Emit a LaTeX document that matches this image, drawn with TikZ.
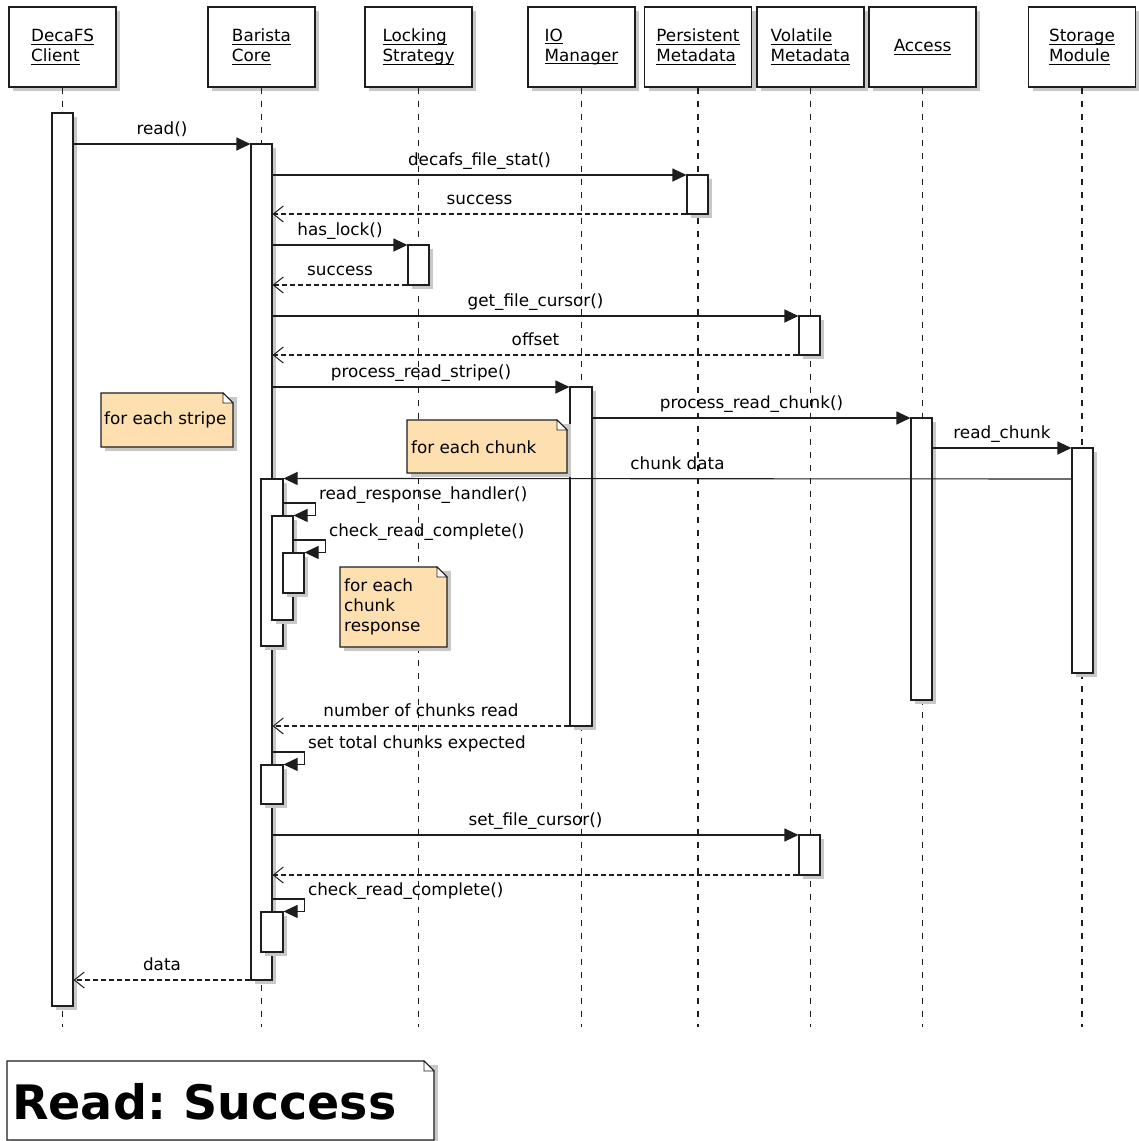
\documentclass[tikz,border=0pt]{standalone}
\usepackage{fontspec}
\setmainfont{DejaVu Sans}
\usetikzlibrary{arrows.meta,shadows,fit}

\definecolor{notefill}{RGB}{254,224,176}
\definecolor{shadowgray}{RGB}{200,200,200}
\definecolor{ink}{RGB}{30,30,30}

\newcommand{\msgfont}{\fontsize{16.8}{20}\selectfont}
% underline at a fixed distance below the baseline
\newcommand{\ul}[1]{\setbox0\hbox{#1}\rlap{\rule[-3pt]{\wd0}{1pt}}\box0}

% folded-corner note: x1, y1, x2, y2, fill
\newcommand{\notepath}[5]{%
  \fill[shadowgray] (#1+4,#2+4) -- (#3+4,#2+4) -- (#3+4,#4+4) -- (#1+4,#4+4) -- cycle;
  \filldraw[fill=#5, draw=ink, line width=1.1pt]
    (#1,#2) -- (#3-10,#2) -- (#3,#2+10) -- (#3,#4) -- (#1,#4) -- cycle;
  \filldraw[fill=white, draw=ink, line width=0.8pt] (#3-10,#2) -- (#3-10,#2+10) -- (#3,#2+10) -- cycle;
}

\begin{document}
\begin{tikzpicture}[x=1pt,y=-1pt,
  part/.style={draw=ink, fill=white, line width=1.1pt, minimum width=107pt,
    minimum height=80pt, align=left, font=\msgfont, inner sep=0pt,
    drop shadow={shadow xshift=4pt, shadow yshift=-4pt, fill=shadowgray, opacity=1}},
  act/.style={draw=ink, fill=white, line width=1.1pt, inner sep=0pt,
    drop shadow={shadow xshift=4pt, shadow yshift=-4pt, fill=shadowgray, opacity=1}},
  life/.style={draw=ink, line width=1.2pt, dash pattern=on 6pt off 7pt},
  call/.style={draw=ink, line width=1.1pt, -{Triangle[length=14pt,width=13pt]}},
  ret/.style={draw=ink, line width=1.1pt, dash pattern=on 5pt off 3pt,
    -{Straight Barb[length=10pt,width=16pt,line width=1pt]}},
  lab/.style={font=\msgfont, anchor=base, yshift=9.5pt, inner sep=0pt},
  selflab/.style={font=\msgfont, anchor=base west, xshift=3pt, yshift=4pt, inner sep=0pt},
  notetext/.style={font=\msgfont, align=left, inner sep=0pt, anchor=west},
]
\useasboundingbox (0,0) rectangle (1139,1141);

% participants
\node[part] (pA) at (62.5,47)  {\ul{DecaFS}\\\ul{Client}};
\node[part] (pB) at (261.5,47) {\ul{Barista}\\\ul{Core}};
\node[part] (pL) at (418.5,47) {\ul{Locking}\\\ul{Strategy}};
\node[part] (pI) at (581.5,47) {\ul{IO}\\\ul{Manager}};
\node[part] (pP) at (698,47)   {\ul{Persistent}\\\ul{Metadata}};
\node[part] (pV) at (810.5,47) {\ul{Volatile}\\\ul{Metadata}};
\node[part] (pC) at (922.5,47) {\ul{Access}};
\node[part] (pS) at (1082,47)  {\ul{Storage}\\\ul{Module}};

% lifelines
\coordinate (bottom) at (0,1027);
\foreach \p in {pA,pB,pL,pI,pP,pV,pC,pS}
  \draw[life] (\p.south) -- (\p.south |- bottom);

% activation bars
\node[act, fit={(52,113) (73,1006)}]   (aA)  {};
\node[act, fit={(251,144) (272,980)}]  (aB)  {};
\node[act, fit={(687,175) (708,214)}]  (aP)  {};
\node[act, fit={(408,245) (429,285)}]  (aL)  {};
\node[act, fit={(799,316) (820,355)}]  (aV1) {};
\node[act, fit={(570,387) (592,726)}]  (aI)  {};
\node[act, fit={(911,418) (932,700)}]  (aC)  {};
\node[act, fit={(1072,448) (1093,673)}] (aS) {};
\node[act, fit={(261,479) (283,646)}]  (aB1) {};
\node[act, fit={(272,516) (293,620)}]  (aB2) {};
\node[act, fit={(283,553) (304,593)}]  (aB3) {};
\node[act, fit={(261,765) (283,804)}]  (aB4) {};
\node[act, fit={(799,835) (820,875)}]  (aV2) {};
\node[act, fit={(261,912) (283,952)}]  (aB5) {};

% notes
\notepath{101}{393}{233}{447}{notefill}
\node[notetext] (nStripe) at (104,420) {for each stripe};
\notepath{407}{420}{567}{473}{notefill}
\node[notetext] (nChunk) at (411,447) {for each chunk};
\notepath{340}{567}{447}{647}{notefill}
\node[notetext] (nResp) at (344,607) {for each\\chunk\\response};

% messages
\draw[call] (aA.east |- 0,144) -- node[lab] {read()} (aB.west |- 0,144);
\draw[call] (aB.east |- 0,175) -- node[lab] {decafs\_file\_stat()} (aP.west |- 0,175);
\draw[ret]  (aP.west |- 0,214) -- node[lab] {success} (aB.east |- 0,214);
\draw[call] (aB.east |- 0,245) -- node[lab] {has\_lock()} (aL.west |- 0,245);
\draw[ret]  (aL.west |- 0,285) -- node[lab] {success} (aB.east |- 0,285);
\draw[call] (aB.east |- 0,316) -- node[lab] {get\_file\_cursor()} (aV1.west |- 0,316);
\draw[ret]  (aV1.west |- 0,355) -- node[lab] {offset} (aB.east |- 0,355);
\draw[call] (aB.east |- 0,387) -- node[lab] {process\_read\_stripe()} (aI.west |- 0,387);
\draw[call] (aI.east |- 0,418) -- node[lab] {process\_read\_chunk()} (aC.west |- 0,418);
\draw[call] (aC.east |- 0,448) -- node[lab] {read\_chunk} (aS.west |- 0,448);
\draw[call] (aS.west |- 0,479) -- node[lab] {chunk data} (aB1.north east);
\draw[call] (aB1.east |- 0,503) -- ++(32,0) node[selflab] {read\_response\_handler()} |- (aB2.north east);
\draw[call] (aB2.east |- 0,540) -- ++(32,0) node[selflab] {check\_read\_complete()} |- (aB3.north east);
\draw[ret]  (aI.west |- 0,726) -- node[lab] {number of chunks read} (aB.east |- 0,726);
\draw[call] (aB.east |- 0,752) -- ++(32,0) node[selflab] {set total chunks expected} |- (aB4.north east);
\draw[call] (aB.east |- 0,835) -- node[lab] {set\_file\_cursor()} (aV2.west |- 0,835);
\draw[ret]  (aV2.west |- 0,875) -- (aB.east |- 0,875);
\draw[call] (aB.east |- 0,899) -- ++(32,0) node[selflab] {check\_read\_complete()} |- (aB5.north east);
\draw[ret]  (aB.west |- 0,980) -- node[lab] {data} (aA.east |- 0,980);

% title
\notepath{7}{1061}{434}{1140}{white}
\node[font=\fontsize{47.5}{50}\selectfont\bfseries, anchor=base west, inner sep=0pt] (title) at (12,1119) {Read:\hspace{-0.1em} Success};
\end{tikzpicture}
\end{document}
